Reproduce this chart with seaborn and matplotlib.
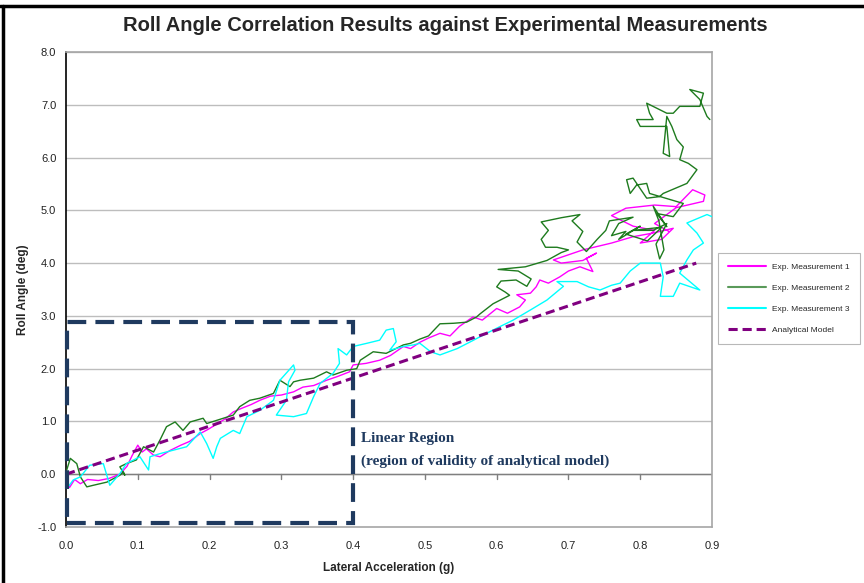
import matplotlib
matplotlib.use("Agg")
import matplotlib.pyplot as plt
from matplotlib.lines import Line2D
from matplotlib.patches import Rectangle
import seaborn as sns
import pandas as pd

# ---- measured and predicted roll angle vs lateral acceleration ----
meas1_x = [0.000, 0.005, 0.012, 0.020, 0.030, 0.045, 0.060, 0.075, 0.085, 0.092, 0.100,
           0.106, 0.112, 0.122, 0.131, 0.145, 0.160, 0.172, 0.187, 0.198, 0.210, 0.222,
           0.233, 0.245, 0.258, 0.270, 0.285, 0.300, 0.317, 0.330, 0.345, 0.363, 0.378,
           0.395, 0.400, 0.418, 0.437, 0.452, 0.470, 0.480, 0.493, 0.505, 0.521, 0.535,
           0.548, 0.567, 0.580, 0.600, 0.615, 0.632, 0.640, 0.628, 0.647, 0.655, 0.660,
           0.672, 0.688, 0.700, 0.716, 0.734, 0.725, 0.739, 0.720, 0.690, 0.679, 0.720,
           0.760, 0.790, 0.818, 0.846, 0.830, 0.800, 0.820, 0.790, 0.760, 0.780, 0.820,
           0.850, 0.873, 0.890, 0.888, 0.850, 0.820, 0.840]
meas1_y = [-0.15, -0.25, -0.10, -0.18, -0.10, -0.12, -0.08, 0.00, 0.15, 0.35, 0.55,
           0.42, 0.48, 0.36, 0.33, 0.45, 0.55, 0.62, 0.77, 0.85, 0.95, 1.05,
           1.18, 1.25, 1.32, 1.40, 1.48, 1.50, 1.56, 1.65, 1.68, 1.78, 1.85,
           1.94, 2.07, 2.10, 2.16, 2.25, 2.42, 2.38, 2.50, 2.58, 2.67, 2.62,
           2.80, 2.98, 2.92, 3.14, 3.05, 3.17, 3.30, 3.40, 3.43, 3.55, 3.68,
           3.62, 3.74, 3.85, 3.93, 3.84, 4.09, 4.19, 4.05, 4.00, 4.06, 4.25,
           4.38, 4.50, 4.57, 4.66, 4.45, 4.38, 4.62, 4.70, 4.90, 5.04, 5.10,
           5.07, 5.39, 5.29, 5.17, 5.05, 4.75, 4.60]

meas2_x = [0.001, 0.006, 0.015, 0.020, 0.029, 0.038, 0.057, 0.075, 0.080, 0.082, 0.075,
           0.084, 0.098, 0.108, 0.122, 0.131, 0.140, 0.152, 0.163, 0.173, 0.191, 0.196,
           0.219, 0.233, 0.242, 0.256, 0.270, 0.289, 0.298, 0.312, 0.317, 0.326, 0.345,
           0.354, 0.363, 0.372, 0.391, 0.405, 0.410, 0.428, 0.446, 0.470, 0.480, 0.493,
           0.505, 0.512, 0.521, 0.540, 0.558, 0.572, 0.577, 0.595, 0.618, 0.612, 0.600,
           0.606, 0.627, 0.642, 0.648, 0.630, 0.602, 0.640, 0.670, 0.690, 0.700, 0.684,
           0.668, 0.662, 0.672, 0.662, 0.690, 0.716, 0.705, 0.720, 0.712, 0.725, 0.740,
           0.752, 0.757, 0.790, 0.770, 0.760, 0.780, 0.770, 0.800, 0.780, 0.810, 0.830,
           0.790, 0.818, 0.837, 0.822, 0.827, 0.833, 0.826, 0.818, 0.837, 0.823, 0.846,
           0.860, 0.813, 0.809, 0.795, 0.786, 0.781, 0.790, 0.809, 0.827, 0.832, 0.865,
           0.879, 0.867, 0.855, 0.860, 0.851, 0.844, 0.837, 0.832, 0.841, 0.837, 0.800,
           0.795, 0.818, 0.813, 0.809, 0.837, 0.846, 0.855, 0.883, 0.888, 0.869, 0.883,
           0.893, 0.897]
meas2_y = [0.08, 0.30, 0.20, -0.05, -0.24, -0.21, -0.15, -0.02, 0.04, -0.02, 0.14,
           0.20, 0.27, 0.52, 0.42, 0.65, 0.90, 0.99, 0.83, 0.99, 1.06, 0.96,
           1.06, 1.12, 1.28, 1.40, 1.44, 1.53, 1.78, 1.66, 1.75, 1.78, 1.82,
           1.88, 1.94, 1.88, 1.97, 2.00, 2.16, 2.32, 2.29, 2.45, 2.48, 2.56,
           2.62, 2.72, 2.85, 2.86, 2.88, 2.98, 3.04, 3.23, 3.39, 3.45, 3.55,
           3.66, 3.68, 3.56, 3.70, 3.85, 3.88, 3.93, 4.05, 4.20, 4.25, 4.30,
           4.30, 4.45, 4.62, 4.78, 4.86, 4.92, 4.80, 4.60, 4.40, 4.22, 4.45,
           4.62, 4.80, 4.87, 4.75, 4.52, 4.60, 4.45, 4.70, 4.55, 4.42, 4.68,
           4.62, 4.62, 4.75, 4.36, 4.08, 4.25, 4.80, 5.08, 4.69, 4.94, 4.88,
           5.13, 5.32, 5.51, 5.48, 5.32, 5.58, 5.61, 5.23, 5.26, 5.32, 5.51,
           5.77, 5.89, 5.96, 6.20, 6.34, 6.59, 6.78, 6.08, 6.02, 6.59, 6.59,
           6.72, 6.72, 6.84, 7.03, 6.84, 6.84, 6.97, 6.97, 7.22, 7.29, 7.10,
           6.78, 6.72]

meas3_x = [0.003, 0.010, 0.020, 0.033, 0.052, 0.061, 0.075, 0.084, 0.103, 0.115, 0.117,
           0.131, 0.168, 0.187, 0.196, 0.205, 0.210, 0.215, 0.233, 0.242, 0.252, 0.270,
           0.289, 0.298, 0.317, 0.319, 0.310, 0.307, 0.293, 0.317, 0.335, 0.345, 0.354,
           0.372, 0.381, 0.379, 0.391, 0.400, 0.419, 0.437, 0.446, 0.456, 0.460, 0.451,
           0.470, 0.484, 0.493, 0.508, 0.521, 0.545, 0.565, 0.586, 0.605, 0.623, 0.648,
           0.670, 0.693, 0.684, 0.712, 0.728, 0.744, 0.760, 0.772, 0.786, 0.800, 0.828,
           0.832, 0.828, 0.846, 0.855, 0.883, 0.855, 0.865, 0.874, 0.888, 0.879, 0.865,
           0.893, 0.900]
meas3_y = [-0.24, -0.11, -0.05, 0.17, 0.20, -0.21, 0.01, 0.20, 0.33, 0.08, 0.33,
           0.39, 0.52, 0.80, 0.58, 0.30, 0.52, 0.68, 0.83, 0.77, 1.09, 1.21,
           1.40, 1.78, 2.07, 1.97, 1.75, 1.40, 1.12, 1.09, 1.15, 1.47, 1.72,
           1.91, 2.10, 2.38, 2.26, 2.42, 2.48, 2.54, 2.73, 2.76, 2.51, 2.35,
           2.42, 2.45, 2.48, 2.32, 2.26, 2.38, 2.52, 2.67, 2.80, 2.92, 3.12,
           3.30, 3.56, 3.65, 3.65, 3.55, 3.49, 3.58, 3.62, 3.85, 4.00, 4.00,
           3.74, 3.37, 3.37, 3.62, 3.49, 3.81, 4.06, 4.25, 4.38, 4.57, 4.76,
           4.92, 4.88]

model_x = [0.0, 0.878]
model_y = [0.0, 4.0]

series_names = ["Exp. Measurement 1", "Exp. Measurement 2", "Exp. Measurement 3", "Analytical Model"]
series_colors = ["#FF00FF", "#1E7B1E", "#00FFFF", "#800080"]

y_ticks = [-1, 0, 1, 2, 3, 4, 5, 6, 7, 8]
x_ticks = [0.0, 0.1, 0.2, 0.3, 0.4, 0.5, 0.6, 0.7, 0.8, 0.9]

frames = []
for name, xs, ys in zip(series_names,
                        [meas1_x, meas2_x, meas3_x, model_x],
                        [meas1_y, meas2_y, meas3_y, model_y]):
    frames.append(pd.DataFrame({"accel": xs, "roll": ys, "series": name}))
df = pd.concat(frames, ignore_index=True)

sns.set_theme(style="white")
plt.rcParams["font.family"] = ["Liberation Sans", "DejaVu Sans"]

fig = plt.figure(figsize=(8.64, 5.83), dpi=100)
ax = fig.add_axes([0.0764, 0.0961, 0.7477, 0.8147])

# light horizontal grid
for yv in y_ticks[1:]:
    ax.axhline(yv, color="#BDBDBD", lw=1.0, zorder=0)
ax.axhline(0, color="#7F7F7F", lw=1.0, zorder=1)

sns.lineplot(data=df[df.series != "Analytical Model"], x="accel", y="roll",
             hue="series", hue_order=series_names[:3], palette=series_colors[:3],
             estimator=None, sort=False, lw=1.0, ax=ax, legend=False, zorder=3)
mdl = df[df.series == "Analytical Model"]
ax.plot(mdl.accel, mdl.roll, color=series_colors[3], lw=2.2, ls=(0, (3, 1.6)), zorder=4)

# linear region box
ax.add_patch(Rectangle((0.001, -0.92), 0.399, 3.81, fill=False, ec="#1F3A5F",
                       lw=3.0, ls=(0, (4.5, 2.2)), zorder=5, clip_on=False))
ax.text(0.411, 0.68, "Linear Region", family=["Liberation Serif", "DejaVu Serif"],
        weight="bold", fontsize=11, color="#1F3A5F", va="center", ha="left")
ax.text(0.411, 0.25, "(region of validity of analytical model)",
        family=["Liberation Serif", "DejaVu Serif"], weight="bold", fontsize=11,
        color="#1F3A5F", va="center", ha="left")

ax.set_xlim(0, 0.9)
ax.set_ylim(-1, 8)
ax.set_yticks(y_ticks)
ax.set_yticklabels([f"{v:.1f}" for v in y_ticks], fontsize=8, color="#222222")
ax.set_xticks(x_ticks)
ax.set_xticklabels([f"{v:.1f}" for v in x_ticks], fontsize=8, color="#222222")
ax.tick_params(axis="y", length=4, width=1, color="#000000", direction="out", pad=3)
ax.tick_params(axis="x", length=0, pad=10)
# x tick marks hang below the zero line
for xv in x_ticks[1:]:
    ax.plot([xv, xv], [0, -0.09], color="#7F7F7F", lw=1.0, zorder=1)

for side in ["top", "right", "bottom"]:
    ax.spines[side].set_color("#A6A6A6")
    ax.spines[side].set_linewidth(1.2)
ax.spines["left"].set_color("#000000")
ax.spines["left"].set_linewidth(1.2)

ax.set_xlabel("Lateral Acceleration (g)", fontsize=8.5, weight="bold", labelpad=8)
ax.set_ylabel("Roll Angle (deg)", fontsize=8.5, weight="bold", labelpad=6)

fig.suptitle("Roll Angle Correlation Results against Experimental Measurements",
             x=0.515, y=0.972, fontsize=14.5, weight="bold")

handles = [Line2D([], [], color=c, lw=1.5 if i < 3 else 2.2,
                  ls="-" if i < 3 else (0, (3, 1.6)))
           for i, c in enumerate(series_colors)]
handles[1].set_color("#5A9A5A")
leg = fig.legend(handles, series_names, loc="upper left",
                 bbox_to_anchor=(718 / 864, 1 - 253 / 583), fontsize=6,
                 frameon=True, fancybox=False, edgecolor="#A6A6A6",
                 handlelength=4.5, labelspacing=1.6, borderpad=1.2,
                 borderaxespad=0)
leg.get_frame().set_linewidth(0.8)

# page border lines on top and left
fig.add_artist(Line2D([0, 1], [1 - 6 / 583, 1 - 6 / 583], color="black", lw=2.5,
                      transform=fig.transFigure))
fig.add_artist(Line2D([3 / 864, 3 / 864], [0, 1 - 6 / 583], color="black", lw=2.5,
                      transform=fig.transFigure))

fig.savefig("out.png", dpi=100, facecolor="white")
